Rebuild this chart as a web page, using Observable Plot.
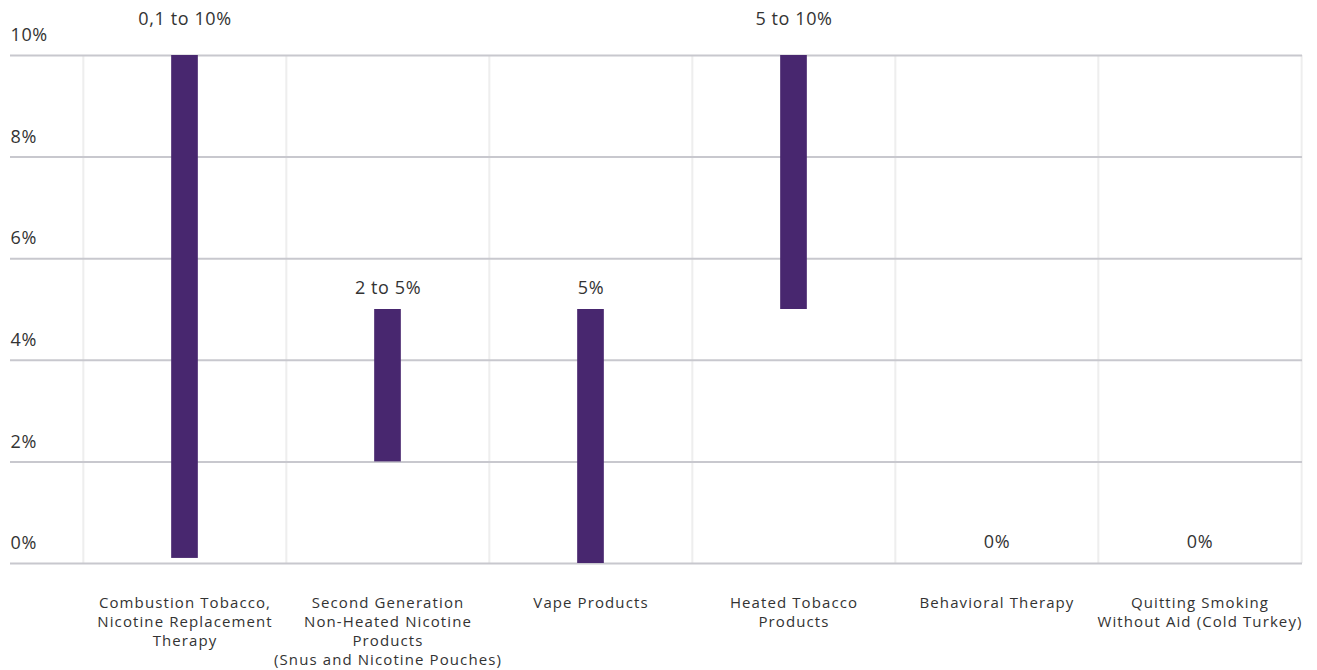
<!DOCTYPE html>
<html>
<head>
<meta charset="utf-8">
<script src="https://cdn.jsdelivr.net/npm/d3@7"></script>
<script src="https://cdn.jsdelivr.net/npm/@observablehq/plot@0.6"></script>
<style>
  html, body { margin: 0; padding: 0; background: #fff; }
  #chart svg { display: block; }
  #chart svg text { letter-spacing: 0.6px; }
  #chart svg g[aria-label="x-axis tick label"] text { letter-spacing: 1.1px; }
</style>
</head>
<body>
<div id="chart"></div>
<script>
// Categories and the low/high bounds of each range (in %)
const categories = [
  "Combustion Tobacco,\nNicotine Replacement\nTherapy",
  "Second Generation\nNon-Heated Nicotine\nProducts\n(Snus and Nicotine Pouches)",
  "Vape Products",
  "Heated Tobacco\nProducts",
  "Behavioral Therapy",
  "Quitting Smoking\nWithout Aid (Cold Turkey)"
];
const lowValues = [0.1, 2, 0, 5, 0, 0];
const highValues = [10, 5, 5, 10, 0, 0];
const rangeLabels = ["0,1 to 10%", "2 to 5%", "5%", "5 to 10%", "0%", "0%"];
const yTicks = [0, 2, 4, 6, 8, 10];

const rows = categories.map((c, i) => ({
  category: c, lo: lowValues[i], hi: highValues[i], label: rangeLabels[i]
}));

const width = 1317, height = 670;
const xLeft = 82, xRight = 1302;
const bw = (xRight - xLeft) / categories.length;
const barWidth = 27;
const font = "'Open Sans', sans-serif";

const chart = Plot.plot({
  width, height,
  marginLeft: 10, marginRight: width - xRight,
  marginTop: 55, marginBottom: 107,
  style: {fontFamily: font, color: "#333", background: "#fff"},
  x: {domain: categories, range: [xLeft, xRight], padding: 0},
  y: {domain: [0, 10], axis: null},
  marks: [
    // vertical separators between categories
    Plot.ruleX(categories, {x: d => d, dx: -bw / 2, stroke: "#eeeeee", strokeWidth: 2}),
    Plot.ruleX(categories.slice(-1), {x: d => d, dx: bw / 2, stroke: "#eeeeee", strokeWidth: 2}),
    // horizontal grid
    Plot.ruleY(yTicks, {stroke: "#c8c8ce", strokeWidth: 2}),
    // y tick labels sitting above their grid lines
    Plot.text(yTicks, {
      y: d => d, text: d => `${d}%`, frameAnchor: "left", textAnchor: "start",
      dy: -20, fontSize: 18, fill: "#333"
    }),
    // range bars
    Plot.barY(rows.filter(d => d.hi > d.lo), {
      x: "category", y1: "lo", y2: "hi", fill: "#48276f",
      insetLeft: (bw - barWidth) / 2, insetRight: (bw - barWidth) / 2
    }),
    // range labels
    Plot.text(rows.filter(d => d.hi < 10), {
      x: "category", y: "hi", text: "label", dy: -21, fontSize: 18, fill: "#333"
    }),
    Plot.text(rows.filter(d => d.hi >= 10), {
      x: "category", y: "hi", text: "label", dy: -36, fontSize: 18, fill: "#333"
    }),
    // category labels
    Plot.axisX({
      tickSize: 0, tickPadding: 31, fontSize: 15, lineHeight: 1.27,
      fill: "#333", label: null
    })
  ]
});

document.getElementById("chart").appendChild(chart);
</script>
</body>
</html>
